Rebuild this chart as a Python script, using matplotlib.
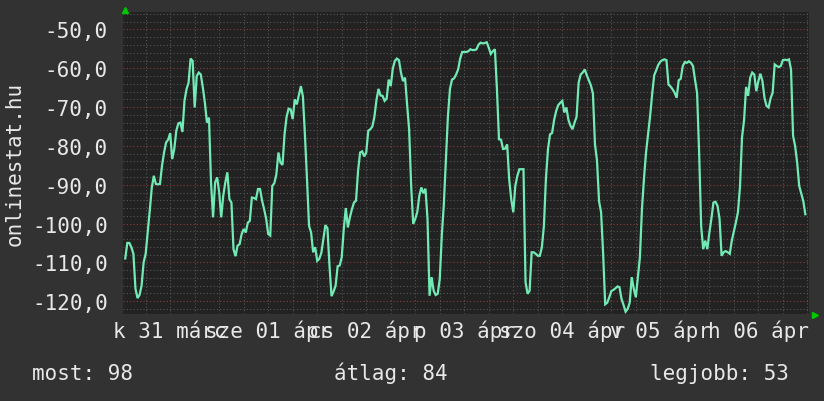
import matplotlib
matplotlib.use('Agg')
import matplotlib.pyplot as plt
import matplotlib.transforms as mtransforms
from matplotlib.ticker import MultipleLocator, FuncFormatter

# half-hour samples of the rank (shown negative), one list per day
mar31 = [-109.0, -105.0, -105.0, -106.1, -107.8, -116.8, -119.2, -118.4, -116.0, -110.0,
         -107.8, -102.3, -96.7, -90.7, -87.7, -89.8, -89.9, -89.8, -85.1, -81.7,
         -79.1, -78.4, -76.7, -83.4, -80.8, -76.1, -74.2, -74.0, -76.4, -68.4,
         -65.4, -63.7, -57.5, -58.1, -70.1, -62.0, -61.1, -61.6, -65.0, -68.9,
         -74.0, -72.7, -89.4, -98.4, -89.4, -88.1]
apr01 = [-92.0, -98.4, -92.8, -89.4, -86.8, -93.7, -94.6, -106.6, -108.4, -105.7,
         -105.3, -102.7, -101.4, -102.3, -99.8, -99.3, -93.3, -93.4, -93.7, -91.1,
         -91.1, -94.1, -96.3, -98.8, -102.7, -103.1, -90.3, -89.6, -87.3, -81.7,
         -84.3, -84.9, -77.0, -72.5, -70.4, -70.6, -73.1, -68.0, -69.3, -67.0,
         -64.6, -67.3, -77.4, -88.6, -100.6, -102.3, -107.4, -106.1]
apr02 = [-109.6, -109.1, -107.6, -104.0, -100.4, -101.2, -110.8, -118.7, -117.5, -116.0,
         -111.0, -110.8, -108.7, -101.4, -96.0, -101.0, -98.4, -96.3, -94.6, -94.1,
         -86.4, -81.7, -81.4, -82.7, -81.7, -76.1, -75.7, -75.0, -72.5, -68.2,
         -65.3, -67.0, -67.1, -68.4, -67.8, -62.9, -64.6, -60.1, -58.1, -57.5,
         -57.9, -61.1, -63.3, -62.4, -69.3, -75.7, -90.3, -100.1]
apr03 = [-98.8, -97.0, -92.8, -90.7, -92.2, -91.0, -98.8, -118.6, -113.8, -117.3,
         -118.4, -118.1, -114.3, -103.1, -95.0, -83.4, -72.3, -65.3, -62.9, -62.6,
         -61.6, -60.3, -57.5, -55.8, -55.8, -55.8, -55.6, -55.1, -55.3, -55.3,
         -55.1, -53.9, -53.4, -53.6, -53.5, -53.3, -54.7, -56.3, -55.6, -55.1,
         -65.4, -78.3, -78.4, -80.8, -80.7, -79.6, -88.6, -93.7]
apr04 = [-97.1, -90.3, -87.7, -86.0, -86.0, -86.0, -115.1, -118.1, -117.3, -107.4,
         -107.4, -107.8, -108.3, -108.3, -106.1, -100.6, -88.3, -80.8, -77.0, -76.7,
         -73.3, -71.0, -69.5, -68.9, -68.4, -71.4, -70.1, -73.3, -74.8, -75.7,
         -74.0, -72.5, -63.7, -61.6, -61.1, -60.3, -61.8, -63.1, -64.4, -66.5,
         -79.6, -83.8, -94.3, -97.1, -107.8, -120.8, -120.4, -119.0]
apr05 = [-117.4, -117.1, -116.7, -116.2, -116.4, -119.4, -121.0, -122.7, -122.0, -120.4,
         -113.8, -116.8, -119.0, -113.8, -108.7, -96.3, -88.4, -81.7, -77.0, -72.3,
         -66.7, -61.8, -60.5, -59.1, -58.3, -57.9, -57.7, -57.9, -64.2, -64.7,
         -65.4, -66.3, -67.6, -63.1, -62.7, -59.4, -58.4, -58.6, -58.2, -58.6,
         -59.4, -63.0, -66.3, -81.7, -100.7, -106.6, -104.4, -106.6]
apr06 = [-102.4, -98.8, -94.6, -94.4, -95.4, -98.8, -108.3, -107.4, -107.1, -107.4,
         -107.8, -104.4, -102.1, -99.7, -97.1, -90.6, -77.8, -73.4, -64.8, -67.1,
         -62.4, -61.1, -61.6, -65.9, -63.3, -61.4, -63.3, -67.6, -69.7, -70.1,
         -67.7, -66.3, -59.0, -59.4, -59.7, -59.4, -57.9, -57.8, -57.9, -57.7,
         -60.3, -77.4, -80.0, -84.3, -90.3, -92.2, -94.2, -97.6]

day_labels = ['k 31 márc', 'sze 01 ápr', 'cs 02 ápr', 'p 03 ápr',
              'szo 04 ápr', 'v 05 ápr', 'h 06 ápr']
y_title = 'onlinestat.hu'
current, average, best = 98, 84, 53

first_hour = 1.0   # first sample, hours after Mar 31 00:00
step_hours = 0.5

values = mar31 + apr01 + apr02 + apr03 + apr04 + apr05 + apr06
hours = [first_hour + step_hours * i for i in range(len(values))]

bg = '#323232'
plot_bg = '#222222'
text_col = '#e8e8e8'
line_col = '#72eab5'
minor_col = '#555555'
major_col = '#8a3c3c'
font = 'DejaVu Sans Mono'
fs = 15

fig = plt.figure(figsize=(8.24, 4.02), dpi=100, facecolor=bg)
ax = fig.add_axes([123 / 824, 87 / 402, 686 / 824, 302 / 402], facecolor=plot_bg)

ax.plot(hours, values, color=line_col, lw=1.6, zorder=3, solid_joinstyle='miter')

ax.set_xlim(0.45, 168.4)
ax.set_ylim(-123.3, -45.5)

ax.xaxis.set_major_locator(MultipleLocator(24))
ax.xaxis.set_minor_locator(MultipleLocator(6))
ax.yaxis.set_major_locator(MultipleLocator(10))
ax.yaxis.set_minor_locator(MultipleLocator(2))

dots = (0, (1, 2))
ax.grid(which='minor', color=minor_col, lw=0.8, linestyle=dots)
ax.grid(which='major', color=major_col, lw=0.8, linestyle=dots)
ax.set_axisbelow(True)

for s in ax.spines.values():
    s.set_visible(False)

ax.tick_params(which='both', length=0)
ax.tick_params(axis='x', labelbottom=False)
ax.tick_params(axis='y', pad=11, labelcolor=text_col, labelsize=fs)
ax.yaxis.set_major_formatter(FuncFormatter(lambda v, p: f'{v:.1f}'.replace('.', ',')))
for lab in ax.get_yticklabels():
    lab.set_family(font)

# day labels centred at noon
trans = mtransforms.blended_transform_factory(ax.transData, ax.transAxes)
for i, lab in enumerate(day_labels):
    ax.text(12 + 24 * i, -0.077, lab, transform=trans, ha='center', va='baseline',
            color=text_col, fontsize=fs, family=font)

# small green arrows at the axis ends
ax.plot([0.003], [1.007], marker='^', color='#00c800', ms=5, transform=ax.transAxes, clip_on=False)
ax.plot([1.009], [-0.004], marker='>', color='#00c800', ms=5, transform=ax.transAxes, clip_on=False)

fig.text(15 / 824, 1 - 164 / 402, y_title, rotation=90, ha='center', va='center',
         color=text_col, fontsize=fs, family=font)

base = 1 - 380.5 / 402
fig.text(32 / 824, base, f'most: {current}', ha='left', va='baseline',
         color=text_col, fontsize=fs, family=font)
fig.text(334 / 824, base, f'átlag: {average}', ha='left', va='baseline',
         color=text_col, fontsize=fs, family=font)
fig.text(650 / 824, base, f'legjobb: {best}', ha='left', va='baseline',
         color=text_col, fontsize=fs, family=font)

fig.savefig('out.png', dpi=100, facecolor=bg)
